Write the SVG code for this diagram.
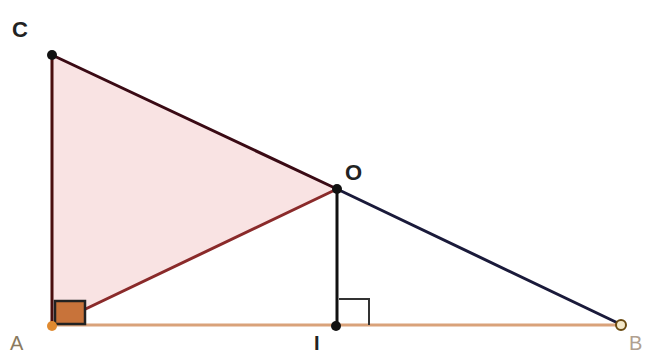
<svg xmlns="http://www.w3.org/2000/svg" width="645" height="354" viewBox="0 0 645 354">
<style>
.lbl{font-family:"Liberation Sans",Arial,sans-serif;font-size:22px;font-weight:bold;fill:#222}
.seg{stroke-width:3;fill:none;stroke-linecap:round}
</style>
<rect width="645" height="354" fill="#ffffff"/>
<g id="triangle">
<polygon points="52,55 337,189 52,325" fill="#f9e3e3"/>
</g>
<g id="connectors">
<line class="seg" x1="52" y1="325" x2="622" y2="325" stroke="#d9a27a" stroke-width="2"/>
<line class="seg" x1="52" y1="325" x2="337" y2="189" stroke="#8a2a2a" stroke-width="2.5"/>
<line class="seg" x1="52" y1="55" x2="52" y2="325" stroke="#4a0e0e"/>
<line class="seg" x1="52" y1="55" x2="337" y2="189" stroke="#3a0a14"/>
<line class="seg" x1="337" y1="189" x2="622" y2="325" stroke="#1a1a3a"/>
<line class="seg" x1="337" y1="189" x2="337" y2="325" stroke="#111"/>
<rect x="55" y="301" width="30" height="23" fill="#c8733a" stroke="#222" stroke-width="2.5"/>
<polyline points="339,299 369,299 369,325" fill="none" stroke="#333" stroke-width="2"/>
</g>
<g id="C"><circle cx="52" cy="55" r="5" fill="#111"/><text class="lbl" x="12" y="37">C</text></g>
<g id="O"><circle cx="337" cy="189" r="5" fill="#111"/><text class="lbl" x="345" y="180">O</text></g>
<g id="A"><circle cx="52" cy="326" r="5" fill="#e08a30"/><text class="lbl" x="10" y="350" style="fill:#8a7a60;font-weight:normal;font-size:20px">A</text></g>
<g id="I"><circle cx="336" cy="326" r="5" fill="#111"/><text class="lbl" x="314" y="350" style="font-size:20px">I</text></g>
<g id="B"><circle cx="621" cy="325" r="5" fill="#f4e8c8" stroke="#6a4a10" stroke-width="2"/><text class="lbl" x="629" y="350" style="fill:#b0a090;font-weight:normal;font-size:20px">B</text></g>
</svg>
